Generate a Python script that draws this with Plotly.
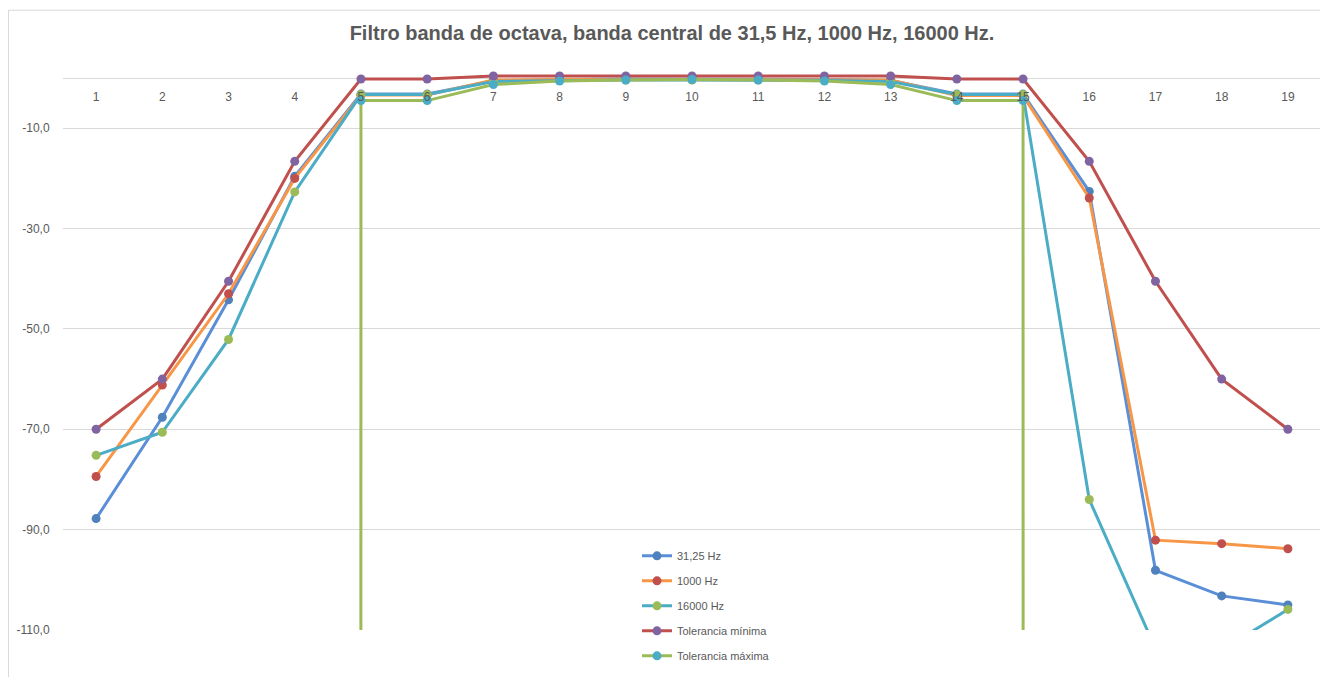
import plotly.graph_objects as go

# ---- data ----
bands = list(range(1, 20))
tick_labels = [str(b) for b in bands]

s_31 = [-87.8, -67.6, -44.2, -19.6, -3.2, -3.2, -0.6, -0.3, -0.2, -0.2,
        -0.2, -0.3, -0.5, -3.2, -3.2, -22.6, -98.1, -103.2, -105.0]
s_1000 = [-79.4, -61.2, -43.0, -20.0, -3.4, -3.4, -0.4, -0.3, -0.3, -0.3,
          -0.3, -0.3, -0.4, -3.5, -3.5, -23.9, -92.1, -92.8, -93.8]
s_16000 = [-75.2, -70.6, -52.1, -22.7, -3.3, -3.3, -0.7, -0.5, -0.4, -0.4,
           -0.4, -0.5, -0.7, -3.3, -3.3, -84.0, -113.7, -114.0, -105.9]
tol_min = [-70.0, -60.0, -40.5, -16.6, -0.2, -0.2, 0.4, 0.4, 0.4, 0.4,
           0.4, 0.4, 0.4, -0.2, -0.2, -16.6, -40.5, -60.0, -70.0]
tol_max = [-100000, -100000, -100000, -100000, -4.5, -4.5, -1.3, -0.6, -0.4, -0.3,
           -0.4, -0.6, -1.3, -4.5, -4.5, -100000, -100000, -100000, -100000]

y_ticks = [-110, -90, -70, -50, -30, -10]
y_tick_labels = ["-110,0", "-90,0", "-70,0", "-50,0", "-30,0", "-10,0"]

series = [
    ("31,25 Hz", s_31, "#5A8FD8", "#4F81BD", True),
    ("1000 Hz", s_1000, "#F79646", "#C0504D", True),
    ("16000 Hz", s_16000, "#4BACC6", "#9BBB59", True),
    ("Tolerancia mínima", tol_min, "#C0504D", "#8064A2", False),
    ("Tolerancia máxima", tol_max, "#9BBB59", "#4BACC6", True),
]

fig = go.Figure()
for i, (name, vals, lc, mc, clip) in enumerate(series):
    fig.add_trace(go.Scatter(
        x=bands, y=vals, name=name, mode="lines+markers",
        line=dict(color=lc, width=3),
        marker=dict(color=mc, size=9),
        cliponaxis=clip,
        legendgroup=f"g{i}",
    ))

FONT = "Liberation Sans"
GRAY = "#595959"

# figure is placed by the page with an 8px body margin
W, H = 1320, 669
PL, PR, PT, PB = 55, 7, 66, 45
PW = W - PL - PR
PH = H - PT - PB

fig.update_layout(
    width=W, height=H,
    margin=dict(l=PL, r=PR, t=PT, b=PB),
    paper_bgcolor="white", plot_bgcolor="white",
    font=dict(family=FONT, color=GRAY, size=12),
    title=dict(
        text="<b>Filtro banda de octava, banda central de 31,5 Hz, 1000 Hz, 16000 Hz.</b>",
        x=664 / W, xref="container", xanchor="center",
        y=1 - 25 / H, yref="container", yanchor="middle",
        font=dict(family=FONT, size=20, color=GRAY),
    ),
    xaxis=dict(
        range=[0.5, 19.5], tickvals=bands, ticktext=tick_labels,
        showgrid=False, zeroline=False, showline=False,
        anchor="free", position=(110 / 110.8), side="bottom",
        ticks="outside", ticklen=8, tickcolor="rgba(0,0,0,0)",
        tickfont=dict(size=12, color=GRAY, family=FONT),
    ),
    yaxis=dict(
        range=[-110, 0.8], tickvals=y_ticks, ticktext=y_tick_labels,
        showgrid=True, gridcolor="#D9D9D9", gridwidth=1,
        zeroline=True, zerolinecolor="#D9D9D9", zerolinewidth=1,
        showline=False,
        ticks="outside", ticklen=10, tickcolor="rgba(0,0,0,0)",
        tickfont=dict(size=12, color=GRAY, family=FONT),
    ),
    legend=dict(
        x=(629 - PL) / PW, xanchor="left",
        y=(H - PB - 535) / PH, yanchor="top",
        bgcolor="rgba(0,0,0,0)",
        font=dict(size=11, color=GRAY, family=FONT),
        tracegroupgap=6,
    ),
    showlegend=True,
)

# chart-area border (light gray) at top-left
fig.add_shape(type="rect", xref="paper", yref="paper",
              x0=(0.5 - PL) / PW, x1=1.2, y0=-0.3, y1=(H - PB - 2) / PH,
              line=dict(color="#D9D9D9", width=1), layer="below")

fig.write_html("out.html")
